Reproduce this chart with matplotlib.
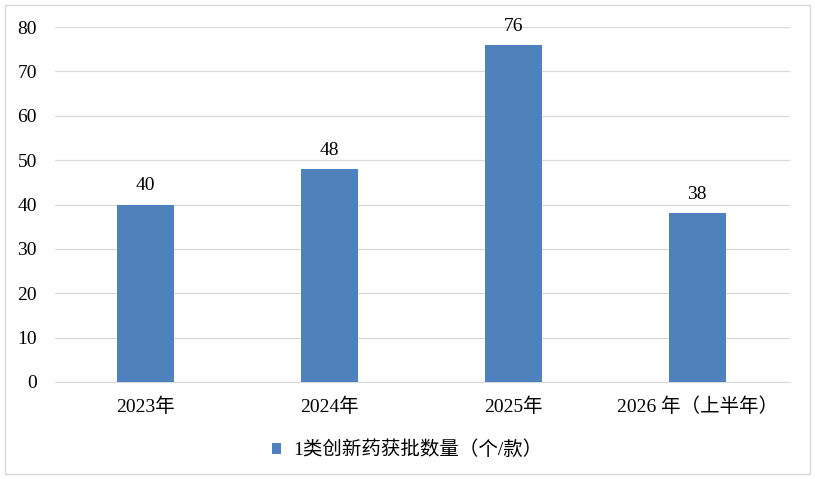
import matplotlib.pyplot as plt
from matplotlib.patches import Rectangle

plt.rcParams['font.family'] = ['Liberation Serif', 'Noto Sans CJK SC']

categories = ["2023年", "2024年", "2025年", "2026 年（上半年）"]
values = [40, 48, 76, 38]
series_name = "1类创新药获批数量（个/款）"
yticks = [0, 10, 20, 30, 40, 50, 60, 70, 80]

fig = plt.figure(figsize=(8.15, 4.79), dpi=100)
ax = fig.add_axes([55/815, 97/479, 735/815, 355/479])

x = range(len(categories))
bars = ax.bar(x, values, width=0.31, color="#4F81BD", label=series_name, zorder=3)
for xi, v in zip(x, values):
    ax.text(xi, v + 2.3, str(v), ha="center", va="bottom", fontsize=14)

ax.set_xlim(-0.49, 3.505)
ax.set_ylim(0, 80)
ax.set_yticks(yticks)
ax.set_xticks(list(x))
ax.set_xticklabels(categories, fontsize=14)
ax.tick_params(axis="y", labelsize=14, length=0, pad=13)
ax.tick_params(axis="x", length=0, pad=11)
ax.grid(axis="y", color="#d9d9d9", linewidth=0.9, zorder=0)
for s in ["top", "right", "left"]:
    ax.spines[s].set_visible(False)
ax.spines["bottom"].set_color("#d9d9d9")

fig.legend(handles=[bars], labels=[series_name], loc="center",
           bbox_to_anchor=(407/815, 1 - 450/479), frameon=False,
           fontsize=14, handlelength=0.5, handleheight=0.5, handletextpad=0.6)

fig.patches.append(Rectangle((5/815, 5/479), 805/815, 469/479, transform=fig.transFigure,
                             fill=False, edgecolor="#d9d9d9", linewidth=1))

fig.savefig("out.png", dpi=100)
